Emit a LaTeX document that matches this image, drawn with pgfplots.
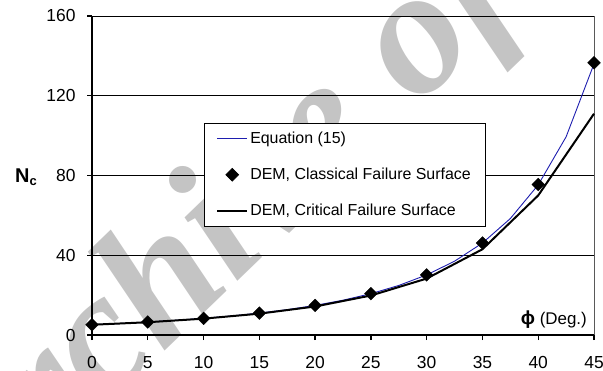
\documentclass[border=0pt]{standalone}
\usepackage{pgfplots}
\pgfplotsset{compat=1.18}
\usepackage{fontspec}
\setmainfont{Liberation Sans}
\newfontfamily\wmfont{Liberation Serif}
\definecolor{eqblue}{RGB}{30,30,175}
\definecolor{wmgray}{RGB}{196,196,196}
\begin{document}
\begin{tikzpicture}
\useasboundingbox (0,0) rectangle (603bp,371bp);
\node[rotate=44, text=wmgray, font=\wmfont\bfseries\itshape\fontsize{180}{180}\selectfont, inner sep=0] at (340bp,250bp) {Archive of SID};
\begin{axis}[
  at={(92bp,36bp)}, anchor=south west,
  scale only axis, width=502bp, height=319bp,
  xmin=0, xmax=45, ymin=0, ymax=160,
  xtick={0,5,...,45}, ytick={0,40,...,160},
  axis x line*=bottom, axis y line*=left,
  axis line style={black, line width=2bp, -},
  tick align=outside, major tick length=5bp,
  tick style={black, line width=1.4bp},
  ymajorgrids, grid style={black, line width=0.7bp},
  tick label style={font=\fontsize{17.5}{19}\selectfont},
  /pgf/number format/assume math mode=true,
  xticklabel style={yshift=-13bp},
  yticklabel style={xshift=-8bp},
  clip=false,
  legend style={at={(0.223,0.665)}, anchor=north west, draw=black, line width=0.6bp, fill=white,
    font=\fontsize{16}{18}\selectfont, row sep=19bp, inner xsep=12bp, inner ysep=7bp,
    nodes={inner sep=2bp}},
  legend cell align=left,
  legend image code/.code={\draw[mark repeat=2, mark phase=2, #1] plot coordinates {(0bp,0bp) (15bp,0bp) (30bp,0bp)};},
]
\draw[gray!70!black, line width=0.7bp] (rel axis cs:1,0) -- (rel axis cs:1,1);
\addplot[eqblue, line width=0.9bp] coordinates {
(0,5.14) (2.5,5.76) (5,6.49) (7.5,7.34) (10,8.35) (12.5,9.54) (15,10.98) (17.5,12.71)
(20,14.83) (22.5,17.45) (25,20.72) (27.5,24.85) (30,30.14) (32.5,37.02) (35,46.12)
(37.5,58.41) (40,75.31) (42.5,99.4) (45,136)};
\addlegendentry{Equation (15)}
\addplot[only marks, mark=square*, mark options={rotate=45}, mark size=4.5bp, black] coordinates {
(0,5.14) (5,6.49) (10,8.35) (15,10.98) (20,14.83) (25,20.72) (30,30.14) (35,46.12) (40,75.5) (45,136.5)};
\addlegendentry{DEM, Classical Failure Surface}
\addplot[black, line width=2bp] coordinates {
(0,5.14) (5,6.4) (10,8.2) (15,10.7) (20,14.3) (25,19.8) (30,28.3) (35,43) (40,70) (45,111)};
\addlegendentry{DEM, Critical Failure Surface}
\node[anchor=east, font=\bfseries\fontsize{20}{22}\selectfont, inner sep=0] at (rel axis cs:0,0.5) [xshift=-55bp, yshift=-2bp] {N\raisebox{-0.3ex}{\fontsize{13}{14}\selectfont c}};
\node[anchor=south east, font=\fontsize{17}{19}\selectfont, inner sep=0] at (rel axis cs:1,0) [xshift=-7bp, yshift=6bp] {\textbf{\fontsize{19}{19}\selectfont ϕ} (Deg.)};
\end{axis}
\end{tikzpicture}
\end{document}
